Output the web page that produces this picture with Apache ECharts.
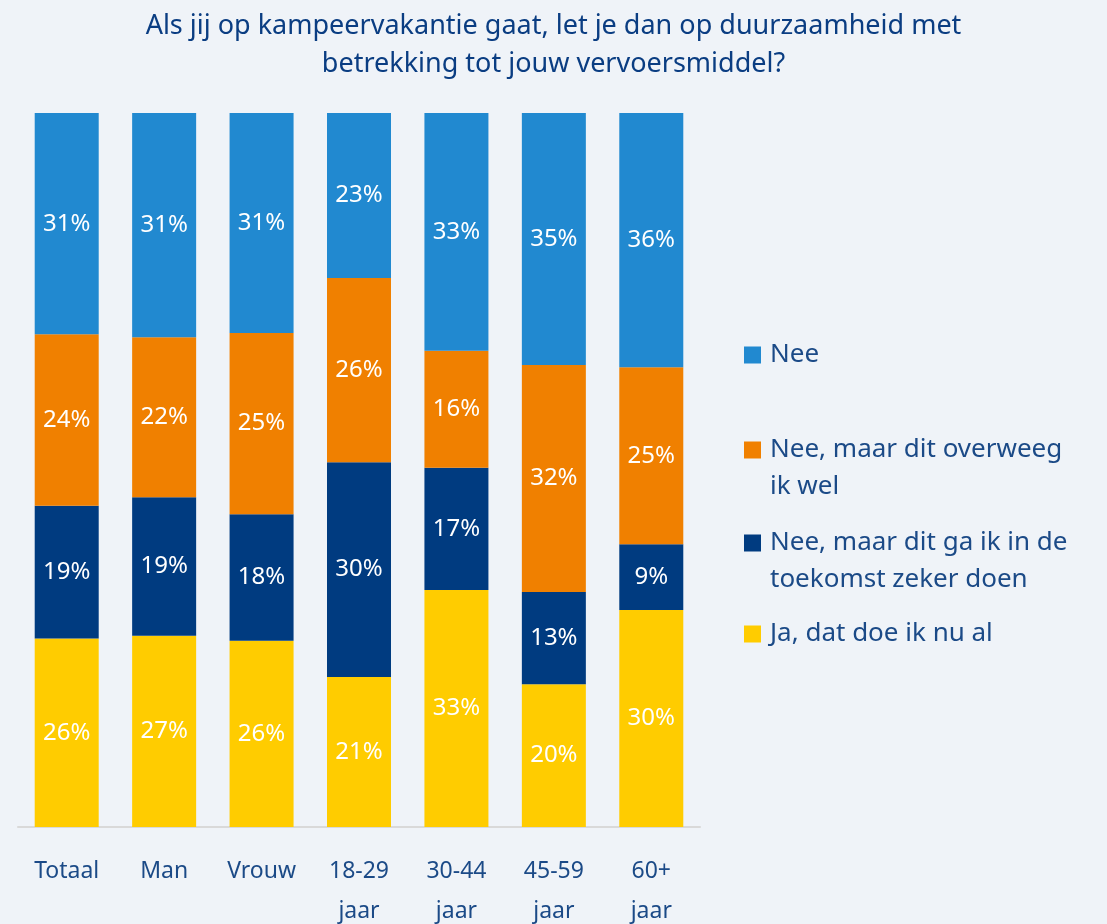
<!DOCTYPE html>
<html>
<head>
<meta charset="UTF-8">
<title>Duurzaamheid vervoersmiddel</title>
<script src="https://cdn.jsdelivr.net/npm/echarts@6/dist/echarts.min.js"></script>
<style>
	html, body { margin: 0; padding: 0; background: #eff3f8; }
	#chart { width: 1107px; height: 924px; }
</style>
</head>
<body>
<div id="chart"></div>
<script>
	// categorieën en percentages
	var categories = ['Totaal', 'Man', 'Vrouw', '18-29\njaar', '30-44\njaar', '45-59\njaar', '60+\njaar']
	var ja = [26.4, 26.8, 26.1, 21.0, 33.2, 20.0, 30.4]
	var toekomst = [18.6, 19.4, 17.7, 30.1, 17.1, 12.9, 9.2]
	var overweeg = [24.0, 22.4, 25.4, 25.8, 16.4, 31.8, 24.8]
	var nee = [31.0, 31.4, 30.8, 23.1, 33.3, 35.3, 35.6]

	var names = ['Ja, dat doe ik nu al', 'Nee, maar dit ga ik in de toekomst zeker doen', 'Nee, maar dit overweeg ik wel', 'Nee']
	var colors = ['#ffcc00', '#003b80', '#f08000', '#2189d0']
	var font = '"Noto Sans", "Open Sans", sans-serif'
	var textColor = '#1b4a87'

	var chart = echarts.init(document.getElementById('chart'))

	function serie(i, data) {
		return {
			name: names[i],
			type: 'bar',
			stack: 'totaal',
			barWidth: 64,
			data: data,
			itemStyle: { color: colors[i] },
			label: {
				show: true,
				position: 'inside',
				color: '#fff',
				fontFamily: font,
				fontSize: 24,
				formatter: function(p) { return Math.round(p.value) + '%' }
			}
		}
	}

	// legenda: één component per item; lege eerste regel zodat het icoon bij de eerste tekstregel staat
	function legenda(name, top) {
		return {
			orient: 'vertical',
			left: 744,
			top: top,
			padding: 0,
			itemWidth: 17,
			itemHeight: 17,
			icon: 'rect',
			selectedMode: false,
			data: [name],
			formatter: function(n) {
				if (n == names[2]) return ' \nNee, maar dit overweeg\nik wel'
				if (n == names[1]) return ' \nNee, maar dit ga ik in de\ntoekomst zeker doen'
				return n
			},
			textStyle: {
				color: textColor,
				fontFamily: font,
				fontSize: 26,
				lineHeight: 37,
				padding: [0, 0, 0, 4]
			}
		}
	}

	chart.setOption({
		backgroundColor: '#eff3f8',
		animation: false,
		title: {
			text: 'Als jij op kampeervakantie gaat, let je dan op duurzaamheid met\nbetrekking tot jouw vervoersmiddel?',
			left: 'center',
			top: 2,
			textStyle: {
				color: '#0a3d82',
				fontFamily: font,
				fontWeight: 'normal',
				fontSize: 27,
				lineHeight: 38
			}
		},
		legend: [
			legenda(names[3], 355 - 18.5),
			legenda(names[2], 450 - 55.5),
			legenda(names[1], 543 - 55.5),
			legenda(names[0], 634 - 18.5)
		],
		grid: { left: 18, right: 407, top: 113, bottom: 97, containLabel: false, outerBoundsMode: 'none' },
		xAxis: {
			type: 'category',
			data: categories,
			axisLine: { lineStyle: { color: '#d9d9d9', width: 2 } },
			axisTick: { show: false },
			axisLabel: {
				color: textColor,
				fontFamily: font,
				fontSize: 23,
				lineHeight: 40,
				margin: 24,
				interval: 0
			}
		},
		yAxis: {
			type: 'value',
			min: 0,
			max: 100,
			show: false
		},
		series: [
			serie(0, ja),
			serie(1, toekomst),
			serie(2, overweeg),
			serie(3, nee)
		]
	})
</script>
</body>
</html>
